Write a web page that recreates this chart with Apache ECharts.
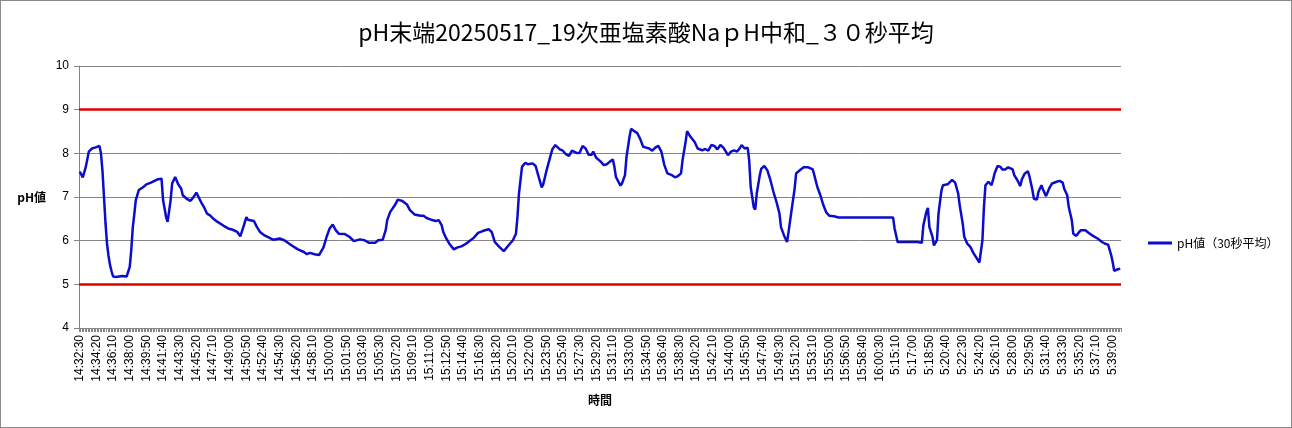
<!DOCTYPE html>
<html><head><meta charset="utf-8">
<script src="https://cdn.jsdelivr.net/npm/echarts@6/dist/echarts.min.js"></script>
<style>
html,body{margin:0;padding:0;background:#fff}
#wrap{position:relative;width:1292px;height:428px}
#chart{width:1292px;height:428px}
#frame{position:absolute;left:0;top:0;width:1292px;height:428px;box-sizing:border-box;border:1px solid #8a8a8a;pointer-events:none}
</style>
</head><body><div id="wrap"><div id="chart"></div><div id="frame"></div></div>
<script>
// ---- data ----
const titleText = 'pH末端20250517_19次亜塩素酸NaｐH中和_３０秒平均';
const seriesName = 'pH値（30秒平均）';
const xName = '時間';
const yName = 'pH値';
// category segments (10-second readings)
const segmentStarts = ['14:32:30', '5:14:20'];
const segmentCounts = [534, 154];
const stepSeconds = 10;
// y scale
const yMin = 4, yMax = 10, yStep = 1;
// control limits (red lines)
const limitValues = [9, 5];
// readings: index of the 10-s category, and pH value
const sampleStep = [0,2,4,6,8,10,13,14,15,16,17,18,19,20,21,22,24,28,31,32,33,34,35,36,37,39,42,44,47,51,54,55,57,58,60,61,63,65,67,68,71,73,75,77,78,80,82,84,86,88,91,95,98,101,104,106,108,110,111,115,117,119,122,126,128,132,135,140,144,148,150,152,155,158,161,163,165,167,169,171,175,178,181,185,188,191,195,197,200,202,203,205,208,210,213,216,218,221,225,227,229,232,235,237,239,240,242,244,247,249,252,255,258,260,263,266,270,272,274,277,280,283,286,288,289,290,292,294,296,299,301,303,305,306,308,310,312,314,317,319,321,323,325,328,330,332,334,336,338,339,341,344,346,348,350,352,353,354,357,358,360,361,363,364,366,368,370,372,374,376,378,380,382,384,386,388,391,393,395,397,398,400,401,403,406,408,411,413,415,417,419,421,423,425,428,430,432,434,436,437,439,441,442,443,445,446,447,449,450,452,454,456,458,460,462,463,465,467,468,470,472,473,476,478,481,484,485,487,489,491,493,495,498,501,513,514,516,537,538,540,553,554,556,557,559,560,561,563,564,566,567,569,570,573,576,578,580,581,583,584,586,588,590,592,594,596,597,598,600,602,603,604,606,608,609,611,613,616,617,619,621,622,624,626,627,629,630,632,633,635,636,638,640,642,643,645,647,649,650,652,653,655,656,658,659,661,664,666,669,672,675,677,679,681,682,683,685,687];
const phValues = [7.58,7.45,7.69,8.04,8.11,8.13,8.17,8.0,7.6,7.0,6.4,5.93,5.65,5.44,5.3,5.18,5.17,5.19,5.18,5.22,5.4,5.78,6.3,6.6,6.93,7.16,7.23,7.29,7.33,7.40,7.42,6.93,6.54,6.43,6.93,7.31,7.46,7.29,7.19,7.04,6.95,6.91,6.99,7.10,7.06,6.89,6.77,6.62,6.58,6.51,6.43,6.34,6.28,6.25,6.20,6.10,6.31,6.54,6.48,6.45,6.31,6.20,6.12,6.05,
6.02,6.05,6.01,5.89,5.80,5.74,5.69,5.72,5.69,5.67,5.85,6.09,6.28,6.37,6.24,6.16,6.15,6.09,5.99,6.03,6.01,5.95,5.95,6.01,6.02,6.24,6.47,6.66,6.81,6.94,6.91,6.83,6.70,6.60,6.57,6.57,6.52,6.48,6.45,6.47,6.35,6.20,6.05,5.93,5.80,5.84,5.87,5.93,6.01,
6.06,6.18,6.22,6.26,6.20,5.97,5.86,5.76,5.89,6.01,6.16,6.54,7.08,7.69,7.78,7.75,7.77,7.71,7.46,7.22,7.29,7.58,7.84,8.09,8.19,8.09,8.06,7.98,7.94,8.06,8.01,8.01,8.17,8.11,7.97,7.97,8.04,7.90,7.81,7.73,7.75,7.81,7.86,7.69,7.46,7.26,7.31,7.50,7.92,8.38,8.56,8.51,8.47,8.33,8.15,8.13,8.11,8.06,8.13,8.17,8.04,7.73,
7.54,7.50,7.45,7.48,7.54,7.84,8.26,8.51,8.39,8.26,8.11,8.07,8.10,8.06,8.19,8.17,8.09,8.19,8.13,7.96,8.04,8.07,8.04,8.13,8.19,8.11,8.13,7.84,7.23,6.77,6.71,7.08,7.50,7.65,7.71,7.61,7.39,7.12,6.89,6.62,6.31,6.12,5.97,6.20,6.70,7.19,7.54,7.63,7.68,7.68,7.63,7.50,7.23,7.04,6.81,6.64,6.57,6.56,6.53,6.53,6.55,6.53,
6.53,6.28,5.97,5.97,5.99,5.95,6.35,6.66,6.75,6.31,6.09,5.89,6.01,6.62,7.16,7.27,7.29,7.39,7.33,7.08,6.81,6.39,6.09,5.93,5.86,5.72,5.61,5.50,6.01,6.77,7.27,7.35,7.27,7.39,7.54,7.71,7.69,7.63,7.63,7.68,7.63,7.50,7.39,7.25,7.40,7.54,7.59,7.48,7.16,6.96,6.94,7.12,7.27,7.17,7.02,7.19,7.31,7.29,7.35,7.37,7.33,7.19,7.04,6.77,6.47,6.16,6.11,6.16,6.24,6.24,6.18,6.11,6.05,5.97,5.93,5.91,5.67,5.51,5.31,5.34,5.36];

// ---- build categories ----
function toSec(t){const p=t.split(':').map(Number);return p[0]*3600+p[1]*60+p[2];}
function fmt(s){s=((s%86400)+86400)%86400;const h=Math.floor(s/3600),m=Math.floor(s%3600/60),x=s%60;return h+':'+String(m).padStart(2,'0')+':'+String(x).padStart(2,'0');}
const categories=[];
segmentStarts.forEach((st,i)=>{const b=toSec(st);for(let k=0;k<segmentCounts[i];k++)categories.push(fmt(b+k*stepSeconds));});
const lineData = sampleStep.map((s,k)=>[categories[s], phValues[k]]);

const font = "'Noto Sans CJK JP','Liberation Sans',sans-serif";
const chart = echarts.init(document.getElementById('chart'), null, {renderer:'canvas'});
chart.setOption({
  animation:false,
  backgroundColor:'#fff',
  textStyle:{fontFamily:font},
  title:{text:titleText,left:'center',top:16,textStyle:{fontFamily:font,fontSize:23,fontWeight:'normal',color:'#000'}},
  legend:{data:[seriesName],orient:'vertical',left:1143,top:232,icon:'rect',itemWidth:24,itemHeight:3,
    textStyle:{fontFamily:font,fontSize:12,color:'#000'}},
  grid:{left:79,right:171,top:66,bottom:100,containLabel:false},
  xAxis:{type:'category',data:categories,boundaryGap:true,
    name:xName,nameLocation:'middle',nameGap:66,nameTextStyle:{fontFamily:font,fontSize:12,fontWeight:'bold',color:'#000'},
    axisLine:{lineStyle:{color:'#868686',width:1}},
    axisTick:{show:true,interval:0,length:4,lineStyle:{color:'#868686'}},
    axisLabel:{interval:10,rotate:90,fontSize:12,margin:7,color:'#000',fontFamily:"'Liberation Sans',sans-serif"},
    splitLine:{show:false}},
  yAxis:{type:'value',min:yMin,max:yMax,interval:yStep,
    name:yName,nameLocation:'middle',nameRotate:0,nameGap:33,nameTextStyle:{fontFamily:font,fontSize:12,fontWeight:'bold',color:'#000'},
    axisLine:{show:true,lineStyle:{color:'#868686'}},
    axisTick:{show:true,length:5,lineStyle:{color:'#868686'}},
    axisLabel:{fontSize:12,color:'#000',margin:10,fontFamily:"'Liberation Sans',sans-serif"},
    splitLine:{lineStyle:{color:'#868686',width:1}}},
  series:[{name:seriesName,type:'line',data:lineData,showSymbol:false,symbol:'none',
    lineStyle:{color:'#0c0ccc',width:2.5},itemStyle:{color:'#0c0ccc'},
    markLine:{silent:true,symbol:['none','none'],label:{show:false},
      lineStyle:{color:'#e00000',width:2.5,type:'solid'},
      data:limitValues.map(v=>({yAxis:v}))}}]
});
</script></body></html>
